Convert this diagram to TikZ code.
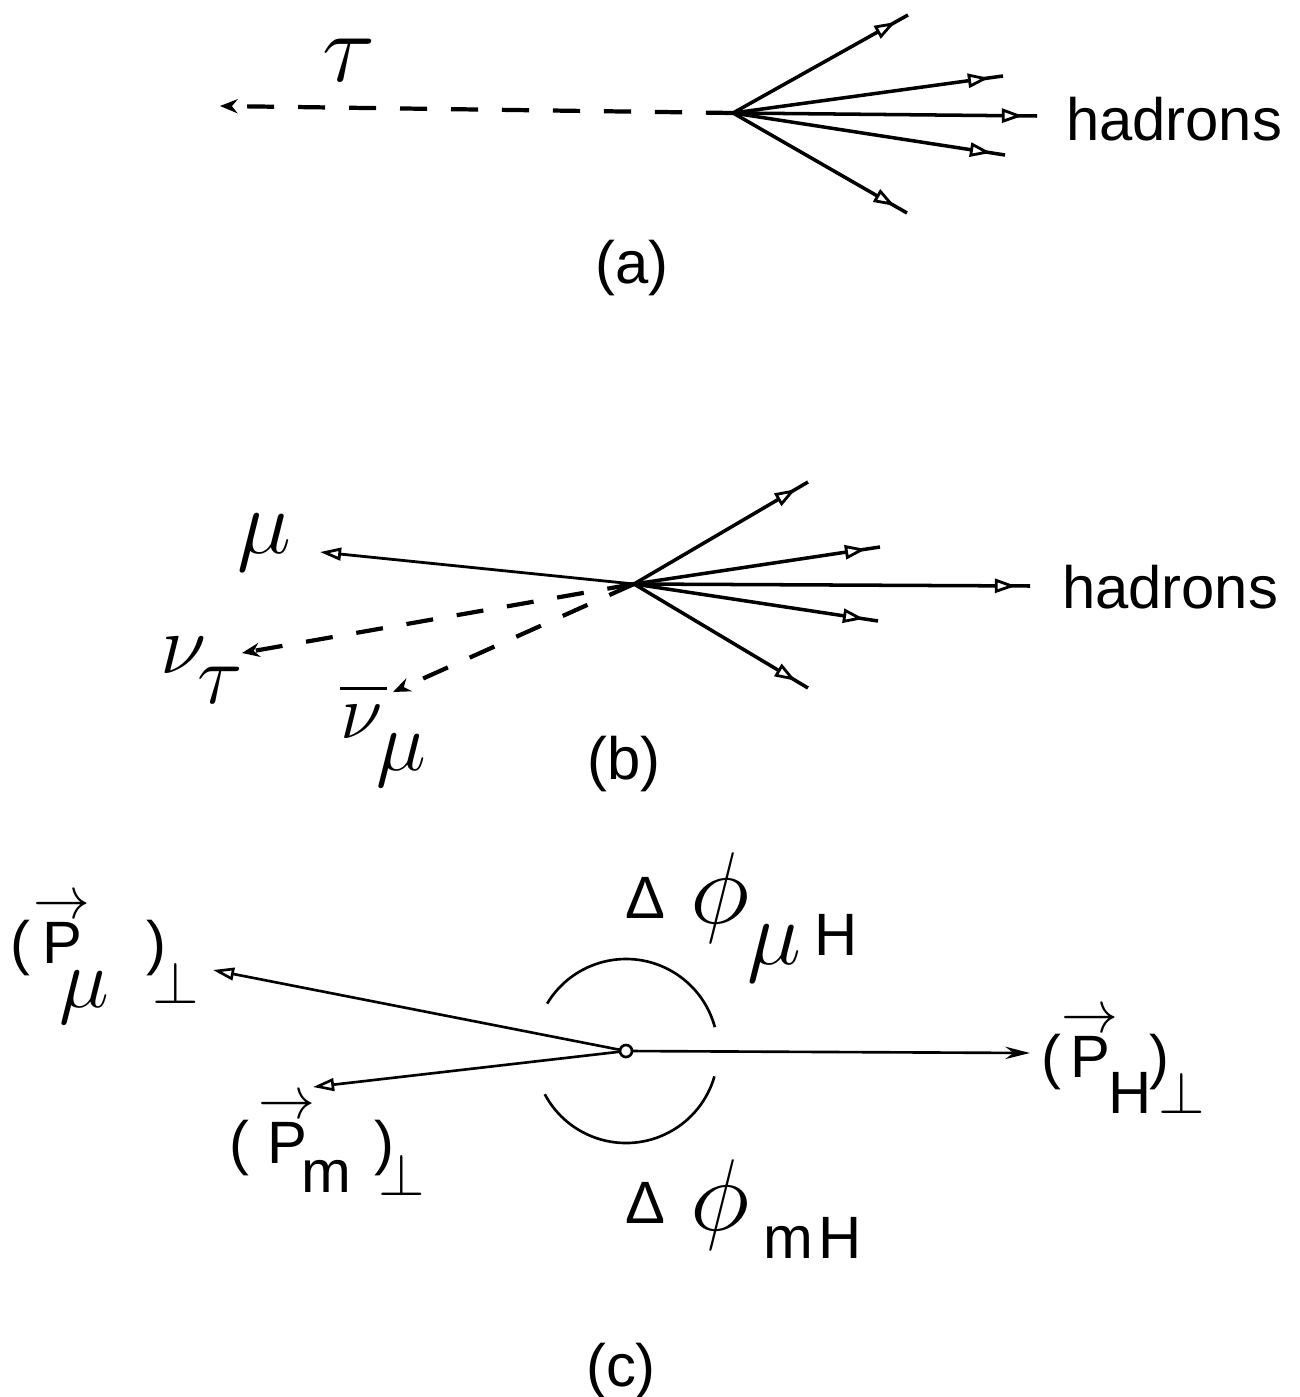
\RequirePackage{fix-cm}
\documentclass[tikz,border=0pt]{standalone}
\usepackage{graphicx}
\usepackage{fontspec}
\setmainfont{Liberation Sans}
\usetikzlibrary{arrows.meta,decorations.markings}
\newdimen\pxu \pxu=0.01cm
\newcommand{\vP}{\makebox[0pt][l]{\kern-9\pxu\raisebox{45\pxu}{\scalebox{0.95}[1]{$\rightarrow$}}}P}
\tikzset{
  every node/.style={inner sep=0pt, outer sep=0pt},
  lbl/.style={font=\fontsize{17}{20}\selectfont},
  hadr/.style={line width=1pt, postaction={decorate, decoration={markings,
      mark=at position -4pt with {\arrow{Triangle[fill=white,length=6pt,width=4pt,line width=0.8pt]}}}}},
  dsh/.style={line width=1.2pt, dash pattern=on 7.7pt off 6.8pt},
  cline/.style={line width=0.75pt},
  smallhead/.style={-{Stealth[length=5pt,width=4pt]}},
  openhead/.style={-{Triangle[fill=white,length=6pt,width=3.6pt]}},
}
\begin{document}
\begin{tikzpicture}[x=0.01cm,y=-0.01cm]
\useasboundingbox (0,0) rectangle (1299,1397);

% ---------- (a)
\coordinate (va) at (733,113);
\coordinate (a1) at (908,15);
\coordinate (a2) at (1003,76);
\coordinate (a3) at (1037,116);
\coordinate (a4) at (1005,155);
\coordinate (a5) at (907,213);
\coordinate (tauend) at (220,106);
\foreach \e in {a1,a2,a3,a4,a5} \draw[hadr] (va) -- (\e);
\draw[dsh, smallhead] (va) -- (tauend);
\node[font=\fontsize{28}{32}\selectfont] (tau) at (349,60) {$\tau$};
\node[lbl, anchor=base west] (hadA) at (1066,140) {hadrons};
\node[lbl] (labA) at (632,268) {(a)};

% ---------- (b)
\coordinate (vb) at (634,584);
\coordinate (b1) at (808,482);
\coordinate (b2) at (880,547);
\coordinate (b3) at (1030,586);
\coordinate (b4) at (878,621);
\coordinate (b5) at (808,688);
\coordinate (muend) at (320,552);
\coordinate (nutend) at (242,653);
\coordinate (nubend) at (393,692);
\foreach \e in {b1,b2,b3,b4,b5} \draw[hadr] (vb) -- (\e);
\draw[line width=0.8pt, openhead] (vb) -- (muend);
\draw[dsh, smallhead] (vb) -- (nutend);
\draw[dsh, smallhead] (vb) -- (nubend);
\node[font=\fontsize{26}{30}\selectfont] (mu) at (264,543) {$\mu$};
\node[font=\fontsize{24}{28}\selectfont, anchor=base west] (nut) at (160,673)
  {$\nu$\kern-9\pxu\raisebox{-30\pxu}{$\tau$}};
\node[font=\fontsize{22}{26}\selectfont, anchor=base west] (nub) at (340,738)
  {\rlap{\raisebox{48\pxu}{\rule{47\pxu}{3.5\pxu}}}$\nu$\kern-6\pxu\raisebox{-32\pxu}{\fontsize{24}{28}\selectfont$\mu$}};
\node[lbl] (labB) at (624,764) {(b)};
\node[lbl, anchor=base west] (hadB) at (1062,608) {hadrons};

% ---------- (c)
\node[circle, draw, fill=white, line width=0.75pt, minimum size=12\pxu] (vc) at (626,1051) {};
\coordinate (pmuend) at (213,970);
\coordinate (pmend) at (313,1087);
\coordinate (phend) at (1030,1053);
\draw[cline, openhead] (vc) -- (pmuend);
\draw[cline, openhead] (vc) -- (pmend);
\draw[cline, -{Stealth[length=7pt,width=3.5pt]}] (vc) -- (phend);
\draw[cline] (vc.center) ++(-149:92) arc[start angle=-149, end angle=-15, radius=92];
\draw[cline] (vc.center) ++(152:92) arc[start angle=152, end angle=16, radius=92];

\node[lbl, anchor=base west] (dphimuH) at (625,918)
  {Δ\kern26\pxu\raisebox{-5\pxu}{\fontsize{29}{32}\selectfont$\phi$}\kern-3\pxu%
   \raisebox{-46\pxu}{\fontsize{26}{30}\selectfont$\mu$}\kern14\pxu\raisebox{-37\pxu}{H}};
\node[lbl, anchor=base west] (dphimH) at (625,1223)
  {Δ\kern26\pxu\raisebox{-7\pxu}{\fontsize{29}{32}\selectfont$\phi$}%
   \kern13\pxu\raisebox{-35\pxu}{m\kern6\pxu H}};

\node[lbl, anchor=base west] (pmu) at (11,963)
  {(\kern12\pxu\vP\kern-23\pxu\raisebox{-44\pxu}{\fontsize{24}{28}\selectfont$\mu$}\kern37\pxu)\kern-14\pxu\raisebox{-40\pxu}{$\perp$}};
\node[lbl, anchor=base west] (pm) at (229,1163)
  {(\kern19\pxu\vP\kern-6\pxu\raisebox{-29\pxu}{m}\kern23\pxu)\kern-16\pxu\raisebox{-32\pxu}{$\perp$}};
\node[lbl, anchor=base west] (ph) at (1041,1077)
  {(\kern10\pxu\vP\kern-2\pxu\raisebox{-36\pxu}{H}\kern-2\pxu)\kern-11\pxu\raisebox{-36\pxu}{$\perp$}};

\node[lbl] (labC) at (621,1371) {(c)};
\end{tikzpicture}
\end{document}
